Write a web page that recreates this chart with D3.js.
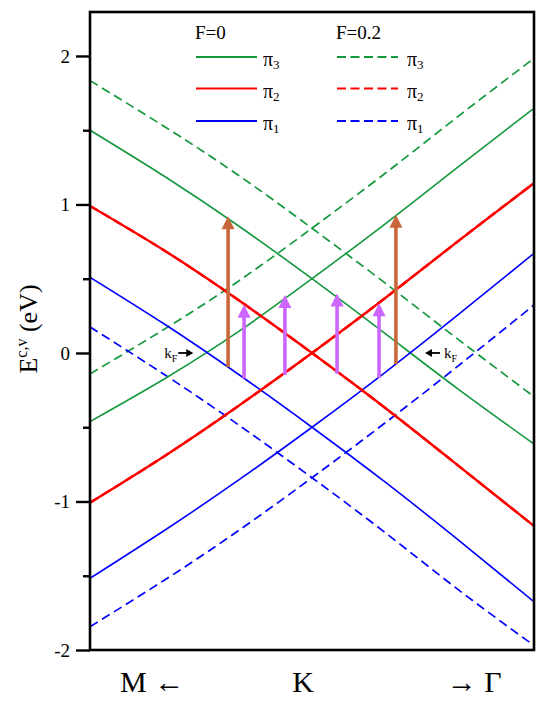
<!DOCTYPE html>
<html>
<head>
<meta charset="utf-8">
<script src="https://cdn.jsdelivr.net/npm/d3@7"></script>
<style>
  html, body { margin: 0; padding: 0; background: #fff; }
  svg { display: block; }
  text { font-family: "Liberation Serif", "Times New Roman", serif; fill: #000; }
</style>
</head>
<body>
<svg id="chart" width="545" height="705"></svg>
<script>
// ---------------- data ----------------
const kGrid = [-1, -0.66, -0.33, 0, 0.33, 0.66, 1];   // M (-1) ... K (0) ... Gamma (+1)

const pi3Down_F0  = [1.5, 1.185, 0.855, 0.5, 0.13, -0.245, -0.613];
const pi3Up_F0    = [-0.462, -0.17, 0.145, 0.5, 0.87, 1.255, 1.648];
const pi2Down_F0  = [0.99, 0.685, 0.355, 0, -0.37, -0.76, -1.165];
const pi2Up_F0    = [-1.008, -0.69, -0.355, 0, 0.37, 0.755, 1.143];
const pi1Down_F0  = [0.51, 0.19, -0.145, -0.5, -0.87, -1.26, -1.675];
const pi1Up_F0    = [-1.517, -1.19, -0.855, -0.5, -0.13, 0.26, 0.671];

const pi3Down_F02 = [1.834, 1.52, 1.195, 0.84, 0.47, 0.09, -0.294];
const pi3Up_F02   = [-0.141, 0.165, 0.485, 0.84, 1.21, 1.595, 1.984];
const pi2Down_F02 = [0.99, 0.685, 0.355, 0, -0.37, -0.76, -1.165];
const pi2Up_F02   = [-1.008, -0.69, -0.355, 0, 0.37, 0.755, 1.143];
const pi1Down_F02 = [0.175, -0.15, -0.485, -0.84, -1.21, -1.595, -1.97];
const pi1Up_F02   = [-1.843, -1.525, -1.195, -0.84, -0.47, -0.085, 0.323];

// optical transition arrows
const arrowK    = [-0.378, -0.306, -0.122, 0.113, 0.302, 0.378];
const arrowFrom = [-0.094, -0.172, -0.148, -0.14, -0.168, -0.074];
const arrowTo   = [0.92, 0.325, 0.39, 0.40, 0.335, 0.93];
const arrowType = ["pi1pi3", "pi1pi2", "pi2pi3", "pi2pi3", "pi1pi2", "pi1pi3"];

const kFPoints  = [-0.49, 0.455];
const kFSide    = ["left", "right"];

const yMajorTicks = [-2, -1, 0, 1, 2];
const yMinorTicks = [-1.5, -0.5, 0.5, 1.5];
const xLabels = ["M \u2190", "K", "\u2192 \u0393"];
const xLabelK = [-0.72, -0.04, 0.73];

const legendHeaders = ["F=0", "F=0.2"];
const bandNames = ["π3", "π2", "π1"];

// ---------------- layout ----------------
const W = 545, H = 705;
const L = 90, R = 534, T = 12, B = 650;
const svg = d3.select("#chart");

const x = d3.scaleLinear().domain([-1, 1]).range([L, R]);
const y = d3.scaleLinear().domain([-2, 2.296]).range([B, T]);

const colors = { pi3: "#14983c", pi2: "#ff0000", pi1: "#0000ff" };
const arrowColors = { pi1pi3: "#c8683a", pi1pi2: "#cc66ff", pi2pi3: "#cc66ff" };

svg.append("defs").append("clipPath").attr("id", "plotclip")
  .append("rect").attr("x", L).attr("y", T).attr("width", R - L).attr("height", B - T);

const series = [
  { v: pi3Down_F02, c: colors.pi3, dash: true },
  { v: pi3Up_F02,   c: colors.pi3, dash: true },
  { v: pi1Down_F02, c: colors.pi1, dash: true },
  { v: pi1Up_F02,   c: colors.pi1, dash: true },
  { v: pi3Down_F0,  c: colors.pi3, dash: false },
  { v: pi3Up_F0,    c: colors.pi3, dash: false },
  { v: pi1Down_F0,  c: colors.pi1, dash: false },
  { v: pi1Up_F0,    c: colors.pi1, dash: false },
  { v: pi2Down_F0,  c: colors.pi2, dash: false, w: 2.4 },
  { v: pi2Up_F0,    c: colors.pi2, dash: false, w: 2.4 },
  { v: pi2Down_F02, c: colors.pi2, dash: true, w: 2.4 },
  { v: pi2Up_F02,   c: colors.pi2, dash: true, w: 2.4 },
];

const line = d3.line()
  .x((d, i) => x(kGrid[i]))
  .y(d => y(d))
  .curve(d3.curveNatural);

const gLines = svg.append("g").attr("clip-path", "url(#plotclip)");
series.forEach(s => {
  gLines.append("path")
    .attr("d", line(s.v))
    .attr("fill", "none")
    .attr("stroke", s.c)
    .attr("stroke-width", s.w || (s.dash ? 1.7 : 1.6))
    .attr("stroke-dasharray", s.dash ? "9,5" : null);
});

// transition arrows
const headLen = 13, headHalf = 6.5;
arrowK.forEach((k, i) => {
  const col = arrowColors[arrowType[i]];
  const xp = x(k), y0 = y(arrowFrom[i]), y1 = y(arrowTo[i]);
  svg.append("line")
    .attr("x1", xp).attr("x2", xp)
    .attr("y1", y0).attr("y2", y1 + headLen - 1)
    .attr("stroke", col).attr("stroke-width", 3.6);
  svg.append("path")
    .attr("d", `M${xp},${y1} L${xp - headHalf},${y1 + headLen} L${xp + headHalf},${y1 + headLen} Z`)
    .attr("fill", col);
});

// kF markers
kFPoints.forEach((k, i) => {
  const xc = x(k), yc = y(0);
  const g = svg.append("g");
  if (kFSide[i] === "left") {
    const xe = xc - 10, xs = xc - 25;
    g.append("line").attr("x1", xs).attr("x2", xe - 5).attr("y1", yc).attr("y2", yc)
      .attr("stroke", "#000").attr("stroke-width", 1.8);
    g.append("path").attr("d", `M${xe},${yc} L${xe - 7},${yc - 4} L${xe - 7},${yc + 4} Z`).attr("fill", "#000");
    const t = g.append("text").attr("x", xs - 14).attr("y", yc + 5).attr("font-size", 15);
    t.append("tspan").text("k");
    t.append("tspan").attr("font-size", 10).attr("dy", 4).text("F");
  } else {
    const xe = xc + 12, xs = xc + 27;
    g.append("line").attr("x1", xs).attr("x2", xe + 5).attr("y1", yc).attr("y2", yc)
      .attr("stroke", "#000").attr("stroke-width", 1.8);
    g.append("path").attr("d", `M${xe},${yc} L${xe + 7},${yc - 4} L${xe + 7},${yc + 4} Z`).attr("fill", "#000");
    const t = g.append("text").attr("x", xs + 4).attr("y", yc + 5).attr("font-size", 15);
    t.append("tspan").text("k");
    t.append("tspan").attr("font-size", 10).attr("dy", 4).text("F");
  }
});

// axes
const fmt = d => (d < 0 ? "-" + Math.abs(d) : String(d));
const yAxis = svg.append("g").attr("transform", `translate(${L},0)`)
  .call(d3.axisLeft(y).tickValues(yMajorTicks).tickSize(14).tickPadding(6).tickFormat(fmt));
yAxis.select(".domain").remove();
yAxis.selectAll(".tick line").attr("stroke", "#000").attr("stroke-width", 2.4);
yAxis.selectAll(".tick text").attr("font-size", 19)
  .attr("font-family", '"Liberation Serif", "Times New Roman", serif').attr("fill", "#000");

const yMinor = svg.append("g").attr("transform", `translate(${L},0)`)
  .call(d3.axisLeft(y).tickValues(yMinorTicks).tickSize(7).tickFormat(""));
yMinor.select(".domain").remove();
yMinor.selectAll(".tick line").attr("stroke", "#000").attr("stroke-width", 2.4);

// frame
svg.append("rect").attr("x", L).attr("y", T).attr("width", R - L).attr("height", B - T)
  .attr("fill", "none").attr("stroke", "#000").attr("stroke-width", 2.6);

// y label
const yl = svg.append("text")
  .attr("transform", `translate(37, ${(T + B) / 2 - 2}) rotate(-90)`)
  .attr("text-anchor", "middle").attr("font-size", 26);
yl.append("tspan").text("E");
yl.append("tspan").attr("font-size", 16).attr("dy", -10).text("c,v");
yl.append("tspan").attr("dy", 10).text(" (eV)");

// x labels
xLabels.forEach((lab, i) => {
  svg.append("text").attr("x", x(xLabelK[i])).attr("y", 692)
    .attr("text-anchor", "middle").attr("font-size", 30).text(lab);
});

// legend
const legX = [196, 337];
legendHeaders.forEach((h, j) => {
  svg.append("text").attr("x", legX[j] - 1).attr("y", 39).attr("font-size", 19).text(h);
});
const legY = [57, 88.5, 121];
const legColors = [colors.pi3, colors.pi2, colors.pi1];
[0, 1].forEach(j => {
  bandNames.forEach((nm, i) => {
    svg.append("line")
      .attr("x1", legX[j]).attr("x2", legX[j] + 61)
      .attr("y1", legY[i]).attr("y2", legY[i])
      .attr("stroke", legColors[i]).attr("stroke-width", 1.8)
      .attr("stroke-dasharray", j === 1 ? "9,4.5" : null);
    const t = svg.append("text").attr("x", legX[j] + 67 + (j === 1 ? 3 : 0)).attr("y", legY[i] + 9).attr("font-size", 20);
    t.append("tspan").text(nm[0]);
    t.append("tspan").attr("font-size", 13).attr("dy", 3).text(nm.slice(1));
  });
});
</script>
</body>
</html>
